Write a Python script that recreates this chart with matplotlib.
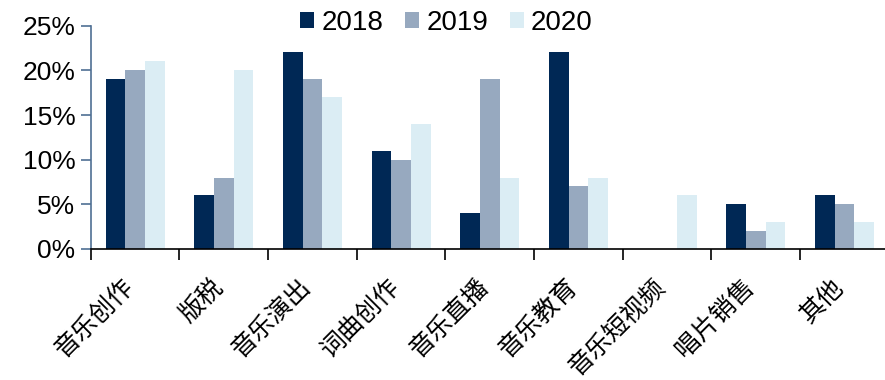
import numpy as np
import matplotlib
matplotlib.use("Agg")
import matplotlib.pyplot as plt
import matplotlib.transforms as mtransforms
from matplotlib.ticker import FixedLocator, PercentFormatter

plt.rcParams['font.family'] = ['Liberation Sans', 'Noto Sans CJK SC', 'DejaVu Sans']

categories = ['音乐创作', '版税', '音乐演出', '词曲创作', '音乐直播',
              '音乐教育', '音乐短视频', '唱片销售', '其他']
years = ['2018', '2019', '2020']
v2018 = [19, 6, 22, 11, 4, 22, 0, 5, 6]
v2019 = [20, 8, 19, 10, 19, 7, 0, 2, 5]
v2020 = [21, 20, 17, 14, 8, 8, 6, 3, 3]
colors = ['#002855', '#97a9bf', '#dbedf4']

fig = plt.figure(figsize=(8.85, 3.8), dpi=100)
ax = fig.add_axes([90.7 / 885, 1 - 249 / 380, 798 / 885, (249 - 25.7) / 380])

x = np.arange(len(categories))
w = 0.222
for i, (vals, name) in enumerate(zip([v2018, v2019, v2020], years)):
    ax.bar(x + (i - 1) * w, vals, width=w, color=colors[i], label=name, zorder=2)

ax.set_xlim(-0.5, len(categories) - 0.5)
ax.set_ylim(0, 25)
ax.set_yticks(np.arange(0, 26, 5))
ax.yaxis.set_major_formatter(PercentFormatter(decimals=0))

# category boundaries get the tick marks, labels sit at centres
ax.set_xticks(x)
ax.set_xticklabels(categories, rotation=45, ha='right', va='baseline',
                   rotation_mode='anchor', family=['Noto Sans CJK SC'], fontsize=18)
shift = mtransforms.ScaledTranslation(5 / 100, 0, fig.dpi_scale_trans)
for lbl in ax.get_xticklabels():
    lbl.set_transform(lbl.get_transform() + shift)
ax.xaxis.set_minor_locator(FixedLocator(np.arange(-0.5, len(categories), 1)))
ax.tick_params(axis='x', which='major', length=0, pad=28)
ax.tick_params(axis='x', which='minor', length=8, width=1.2, color='black', direction='out')
ax.tick_params(axis='y', length=7, width=1.2, color='#4f6f94', labelsize=19, pad=4)

for s in ['top', 'right']:
    ax.spines[s].set_visible(False)
ax.spines['left'].set_color('#4f6f94')
ax.spines['left'].set_linewidth(1.2)
ax.spines['bottom'].set_color('black')
ax.spines['bottom'].set_linewidth(1.2)

ax.legend(loc='center', bbox_to_anchor=(0.446, 1.012), ncol=3, frameon=False,
          fontsize=20, handlelength=0.5, handleheight=0.5, handletextpad=0.25,
          columnspacing=0.8, borderpad=0, borderaxespad=0)

fig.savefig('out.png', dpi=100)
